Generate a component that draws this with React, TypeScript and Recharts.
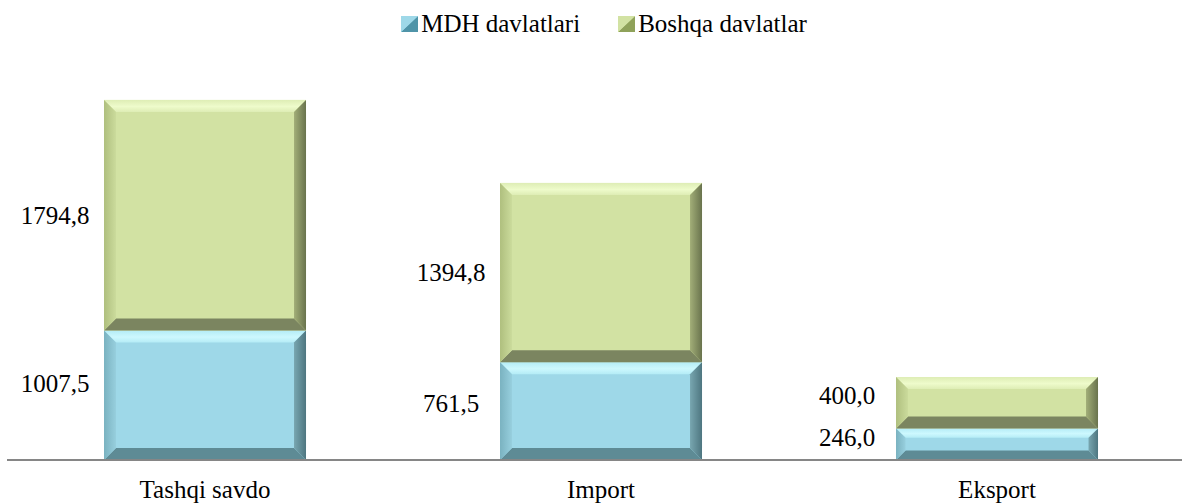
import React from "react";
import { BarChart, Bar, XAxis, YAxis, Legend, LabelList } from "recharts";

// Tashqi savdo tuzilmasi: MDH va boshqa davlatlar
const categories = ["Tashqi savdo", "Import", "Eksport"];
const mdhValues = [1007.5, 761.5, 246.0];
const boshqaValues = [1794.8, 1394.8, 400.0];

const SERIES_MDH = "MDH davlatlari";
const SERIES_BOSHQA = "Boshqa davlatlar";

const data = categories.map((name, i) => ({
  name,
  mdh: mdhValues[i],
  boshqa: boshqaValues[i],
}));

// Excel-style bevel palettes
const P = {
  mdh: {
    face: "#9ED8E8",
    top: "#B4ECF6",
    hi: "#CDF8FE",
    leftOuter: "#7AB2C0",
    leftInner: "#97CFDE",
    rightInner: "#78A6B0",
    rightOuter: "#4E7680",
    bottom: "#5E8B95",
    legend: "#4F94A8",
  },
  boshqa: {
    face: "#D2E2A3",
    top: "#DEEDB5",
    hi: "#EEFBCB",
    leftOuter: "#AFBF7E",
    leftInner: "#CBDB9C",
    rightInner: "#A2AE78",
    rightOuter: "#69734D",
    bottom: "#7B8560",
    legend: "#8FA25A",
  },
};

const FONT = "Liberation Serif, DejaVu Serif, serif";

// small vertical tweaks so labels sit where the original has them
const mdhLabelNudge = [-12, -8, -7];
const boshqaLabelNudge = [0, 0, -7];

function fmt(v: number) {
  return v.toFixed(1).replace(".", ",");
}

function makeBevel(key: "mdh" | "boshqa") {
  return function BevelBar(props: any) {
    const { x, y, width: w, height: h } = props;
    if (!w || !h || h <= 0) return null;
    const b = Math.min(12, h * 0.3, w * 0.3);
    const c = P[key];
    return (
      <g>
        <rect x={x} y={y} width={w} height={h} fill={c.face} />
        <polygon
          points={`${x},${y} ${x + w},${y} ${x + w - b},${y + b} ${x + b},${y + b}`}
          fill={`url(#${key}-top)`}
        />
        <polygon
          points={`${x},${y + h} ${x + w},${y + h} ${x + w - b},${y + h - b} ${x + b},${y + h - b}`}
          fill={c.bottom}
        />
        <polygon
          points={`${x},${y} ${x + b},${y + b} ${x + b},${y + h - b} ${x},${y + h}`}
          fill={`url(#${key}-left)`}
        />
        <polygon
          points={`${x + w},${y} ${x + w - b},${y + b} ${x + w - b},${y + h - b} ${x + w},${y + h}`}
          fill={`url(#${key}-right)`}
        />
      </g>
    );
  };
}

function makeLabel(nudge: number[]) {
  return function SideLabel(props: any) {
    const { x, y, height, value, index } = props;
    return (
      <text
        x={x - 49}
        y={y + height / 2 + (nudge[index] || 0)}
        textAnchor="middle"
        dominantBaseline="central"
        fontSize={25}
        style={{ fontFamily: FONT }}
        fill="#000"
      >
        {fmt(Number(value))}
      </text>
    );
  };
}

function LegendIcon({ c }: { c: typeof P.mdh }) {
  return (
    <svg width={17} height={16} style={{ marginRight: 3 }}>
      <rect x={0} y={0} width={17} height={16} fill={c.face} />
      <polygon points="17,0 17,16 0,16" fill={c.legend} />
      <polygon points="0,0 17,0 0,16" fill={c.face} />
    </svg>
  );
}

function LegendContent() {
  return (
    <div
      style={{
        display: "flex",
        justifyContent: "center",
        alignItems: "center",
        paddingLeft: 26,
        fontFamily: FONT,
        fontSize: 25,
        lineHeight: "25px",
        color: "#000",
      }}
    >
      <span style={{ display: "flex", alignItems: "center", marginRight: 38 }}>
        <LegendIcon c={P.mdh} />
        {SERIES_MDH}
      </span>
      <span style={{ display: "flex", alignItems: "center" }}>
        <LegendIcon c={P.boshqa} />
        {SERIES_BOSHQA}
      </span>
    </div>
  );
}

function Gradients() {
  return (
    <defs>
      {(["mdh", "boshqa"] as const).map((k) => {
        const c = P[k];
        return (
          <React.Fragment key={k}>
            <linearGradient id={`${k}-top`} x1="0" y1="0" x2="0" y2="1">
              <stop offset="0%" stopColor={c.top} />
              <stop offset="55%" stopColor={c.hi} />
              <stop offset="100%" stopColor={c.top} />
            </linearGradient>
            <linearGradient id={`${k}-left`} x1="0" y1="0" x2="1" y2="0">
              <stop offset="0%" stopColor={c.leftOuter} />
              <stop offset="100%" stopColor={c.leftInner} />
            </linearGradient>
            <linearGradient id={`${k}-right`} x1="0" y1="0" x2="1" y2="0">
              <stop offset="0%" stopColor={c.rightInner} />
              <stop offset="100%" stopColor={c.rightOuter} />
            </linearGradient>
          </React.Fragment>
        );
      })}
    </defs>
  );
}

export default function App() {
  return (
    <div style={{ width: 1182, height: 504, background: "#fff", fontFamily: FONT }}>
      <style>{`body{margin:0}`}</style>
      <BarChart
        width={1182}
        height={504}
        data={data}
        margin={{ top: 74.5, right: -13, bottom: 0, left: 7 }}
        barCategoryGap="24.5%"
        style={{ fontFamily: FONT }}
      >
        <Gradients />
        <XAxis
          dataKey="name"
          height={44}
          tickSize={0}
          tickMargin={20}
          tickLine={false}
          axisLine={{ stroke: "#868686", strokeWidth: 2 }}
          tick={{ fontSize: 25, fill: "#000", style: { fontFamily: FONT } }}
        />
        <YAxis hide domain={[0, 3000]} />
        <Legend
          layout="horizontal"
          verticalAlign="middle"
          align="center"
          wrapperStyle={{ top: 11, left: 0, width: 1182 }}
          content={<LegendContent />}
        />
        <Bar
          dataKey="mdh"
          name={SERIES_MDH}
          stackId="a"
          fill={P.mdh.face}
          shape={makeBevel("mdh")}
          isAnimationActive={false}
        >
          <LabelList dataKey="mdh" content={makeLabel(mdhLabelNudge)} />
        </Bar>
        <Bar
          dataKey="boshqa"
          name={SERIES_BOSHQA}
          stackId="a"
          fill={P.boshqa.face}
          shape={makeBevel("boshqa")}
          isAnimationActive={false}
        >
          <LabelList dataKey="boshqa" content={makeLabel(boshqaLabelNudge)} />
        </Bar>
      </BarChart>
    </div>
  );
}
